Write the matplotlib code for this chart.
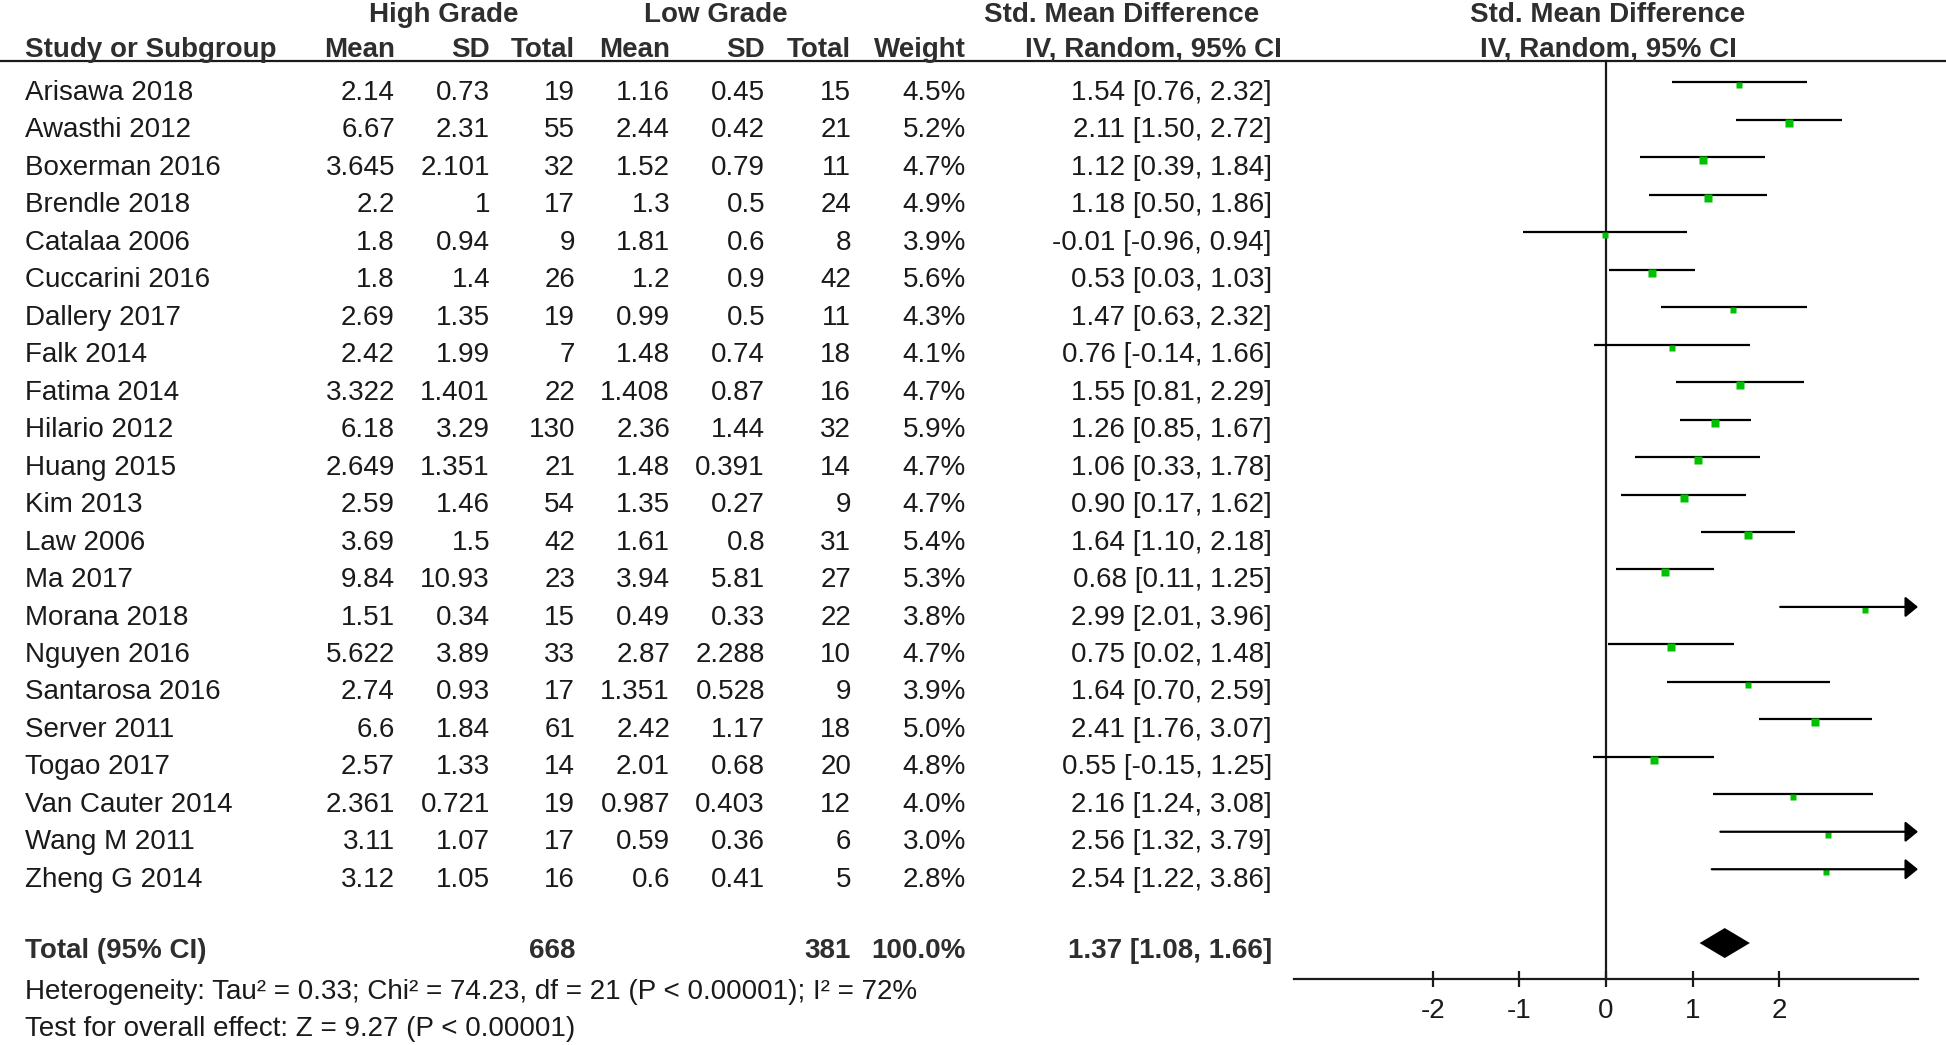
import numpy as np
import matplotlib
matplotlib.use('Agg')
from matplotlib import pyplot as plt

# table values
studies = ["Arisawa 2018", "Awasthi 2012", "Boxerman 2016", "Brendle 2018", "Catalaa 2006",
           "Cuccarini 2016", "Dallery 2017", "Falk 2014", "Fatima 2014", "Hilario 2012",
           "Huang 2015", "Kim 2013", "Law 2006", "Ma 2017", "Morana 2018", "Nguyen 2016",
           "Santarosa 2016", "Server 2011", "Togao 2017", "Van Cauter 2014", "Wang M 2011",
           "Zheng G 2014"]
hg_mean = ["2.14", "6.67", "3.645", "2.2", "1.8", "1.8", "2.69", "2.42", "3.322", "6.18", "2.649",
           "2.59", "3.69", "9.84", "1.51", "5.622", "2.74", "6.6", "2.57", "2.361", "3.11", "3.12"]
hg_sd = ["0.73", "2.31", "2.101", "1", "0.94", "1.4", "1.35", "1.99", "1.401", "3.29", "1.351",
         "1.46", "1.5", "10.93", "0.34", "3.89", "0.93", "1.84", "1.33", "0.721", "1.07", "1.05"]
hg_n = [19, 55, 32, 17, 9, 26, 19, 7, 22, 130, 21, 54, 42, 23, 15, 33, 17, 61, 14, 19, 17, 16]
lg_mean = ["1.16", "2.44", "1.52", "1.3", "1.81", "1.2", "0.99", "1.48", "1.408", "2.36", "1.48",
           "1.35", "1.61", "3.94", "0.49", "2.87", "1.351", "2.42", "2.01", "0.987", "0.59", "0.6"]
lg_sd = ["0.45", "0.42", "0.79", "0.5", "0.6", "0.9", "0.5", "0.74", "0.87", "1.44", "0.391",
         "0.27", "0.8", "5.81", "0.33", "2.288", "0.528", "1.17", "0.68", "0.403", "0.36", "0.41"]
lg_n = [15, 21, 11, 24, 8, 42, 11, 18, 16, 32, 14, 9, 31, 27, 22, 10, 9, 18, 20, 12, 6, 5]
weight = [4.5, 5.2, 4.7, 4.9, 3.9, 5.6, 4.3, 4.1, 4.7, 5.9, 4.7, 4.7, 5.4, 5.3, 3.8, 4.7, 3.9,
          5.0, 4.8, 4.0, 3.0, 2.8]
smd = [1.54, 2.11, 1.12, 1.18, -0.01, 0.53, 1.47, 0.76, 1.55, 1.26, 1.06, 0.90, 1.64, 0.68,
       2.99, 0.75, 1.64, 2.41, 0.55, 2.16, 2.56, 2.54]
ci_lo = [0.76, 1.50, 0.39, 0.50, -0.96, 0.03, 0.63, -0.14, 0.81, 0.85, 0.33, 0.17, 1.10, 0.11,
         2.01, 0.02, 0.70, 1.76, -0.15, 1.24, 1.32, 1.22]
ci_hi = [2.32, 2.72, 1.84, 1.86, 0.94, 1.03, 2.32, 1.66, 2.29, 1.67, 1.78, 1.62, 2.18, 1.25,
         3.96, 1.48, 2.59, 3.07, 1.25, 3.08, 3.79, 3.86]

total_hg = 668
total_lg = 381
total_smd = 1.37
total_lo = 1.08
total_hi = 1.66
heterogeneity = "Heterogeneity: Tau² = 0.33; Chi² = 74.23, df = 21 (P < 0.00001); I² = 72%"
overall = "Test for overall effect: Z = 9.27 (P < 0.00001)"
xticks = [-2, -1, 0, 1, 2]

plt.rcParams['font.family'] = ['Liberation Sans', 'DejaVu Sans']
FS = 20
TXT = '#1a1a1a'
HDR = '#2e2e2e'

fig = plt.figure(figsize=(19.46, 10.45), dpi=100)

# row units: row 0 text centre at 90.6 px, 37.47 px per row
row0, dy = 90.6, 37.47
ylim = ((1045 - row0) / dy, -row0 / dy)
base = 0.25   # baseline offset below row centre
mark = -0.22  # CI line offset above row centre

ax = fig.add_axes([0, 0, 1, 1])
ax.set_xlim(0, 1946)
ax.set_ylim(*ylim)
ax.axis('off')

# column right edges (pixels)
cols = [395, 490, 575, 670, 765, 851, 966, 1272]

# header
h1, h2 = -1.84, -0.90
kw = dict(va='baseline', fontsize=FS, fontweight='bold', color=HDR)
ax.text(444, h1, "High Grade", ha='center', **kw)
ax.text(716, h1, "Low Grade", ha='center', **kw)
ax.text(1122, h1, "Std. Mean Difference", ha='center', **kw)
ax.text(1608, h1, "Std. Mean Difference", ha='center', **kw)
ax.text(25, h2, "Study or Subgroup", ha='left', **kw)
for x, lab in zip(cols[:7], ["Mean", "SD", "Total", "Mean", "SD", "Total", "Weight"]):
    ax.text(x, h2, lab, ha='right', **kw)
ax.text(1153, h2, "IV, Random, 95% CI", ha='center', **kw)
ax.text(1608, h2, "IV, Random, 95% CI", ha='center', **kw)
yline = -0.79
ax.plot([0, 1946], [yline, yline], color=TXT, lw=1.6)

# study rows
for i, name in enumerate(studies):
    ax.text(25, i + base, name, ha='left', va='baseline', fontsize=FS, color=TXT)
    vals = [hg_mean[i], hg_sd[i], str(hg_n[i]), lg_mean[i], lg_sd[i], str(lg_n[i]),
            "%.1f%%" % weight[i], "%.2f [%.2f, %.2f]" % (smd[i], ci_lo[i], ci_hi[i])]
    for x, v in zip(cols, vals):
        ax.text(x, i + base, v, ha='right', va='baseline', fontsize=FS, color=TXT)

# total row
yt = 23.15
kw = dict(va='baseline', fontsize=FS, fontweight='bold', color=HDR)
ax.text(25, yt, "Total (95% CI)", ha='left', **kw)
ax.text(cols[2], yt, str(total_hg), ha='right', **kw)
ax.text(cols[5], yt, str(total_lg), ha='right', **kw)
ax.text(cols[6], yt, "100.0%", ha='right', **kw)
ax.text(cols[7], yt, "%.2f [%.2f, %.2f]" % (total_smd, total_lo, total_hi), ha='right', **kw)
ax.text(25, 24.24, heterogeneity, ha='left', va='baseline', fontsize=FS, color=TXT)
ax.text(25, 25.24, overall, ha='left', va='baseline', fontsize=FS, color=TXT)

# forest panel
fax = fig.add_axes([1294 / 1946, 0, 624 / 1946, 1])
fax.set_xlim(-3.6, 3.6)
fax.set_ylim(*ylim)
fax.patch.set_alpha(0)
for s in ['top', 'left', 'right']:
    fax.spines[s].set_visible(False)
yaxis = 23.71
fax.spines['bottom'].set_position(('data', yaxis))
fax.spines['bottom'].set_linewidth(1.6)
fax.spines['bottom'].set_color(TXT)
fax.set_yticks([])
fax.set_xticks(xticks)
fax.set_xticklabels([str(t) for t in xticks])
fax.tick_params(axis='x', direction='inout', length=12, width=1.6, pad=8, labelsize=FS, colors=TXT)

fax.plot([0, 0], [yline, yaxis], color=TXT, lw=1.6)

xmax = fax.get_xlim()[1]
for i in range(len(studies)):
    y = i + mark
    if ci_hi[i] > xmax:
        fax.annotate('', xy=(xmax, y), xytext=(ci_lo[i], y),
                     arrowprops=dict(arrowstyle='-|>,head_length=0.55,head_width=0.45',
                                     mutation_scale=14, lw=1.6, color='black',
                                     shrinkA=0, shrinkB=0))
    else:
        fax.plot([ci_lo[i], ci_hi[i]], [y, y], color='black', lw=1.6, solid_capstyle='butt')
    fax.plot(smd[i], y + 0.08, 's', ms=3.4 + 0.35 * weight[i], color='#00c000', mec='none')

yd, hd = 22.75, 0.4
fax.fill([total_lo, total_smd, total_hi, total_smd], [yd, yd - hd, yd, yd + hd], color='black', lw=0)

fig.savefig('out.png', dpi=100)
